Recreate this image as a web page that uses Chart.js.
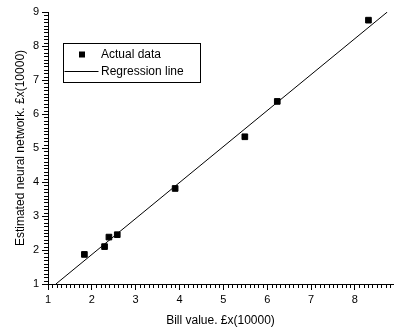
<!DOCTYPE html>
<html><head><meta charset="utf-8">
<script src="https://cdn.jsdelivr.net/npm/chart.js@4/dist/chart.umd.min.js"></script>
<style>html,body{margin:0;padding:0;background:#fff}#wrap{width:398px;height:328px;position:relative}</style>
</head><body><div id="wrap"><canvas id="c"></canvas></div>
<script>
// Data
const billValue = [1.83, 2.29, 2.39, 2.58, 3.9, 5.49, 6.23, 8.31];
const estimated = [1.87, 2.10, 2.38, 2.45, 3.81, 5.33, 6.37, 8.76];
const regressionX = [1.18, 8.74];
const regressionY = [1.0, 9.0];
const xTicks = [1, 2, 3, 4, 5, 6, 7, 8];
const yTicks = [1, 2, 3, 4, 5, 6, 7, 8, 9];
const seriesNames = ['Actual data', 'Regression line'];
const xTitle = 'Bill value. £x(10000)';
const yTitle = 'Estimated neural network. £x(10000)';

Chart.defaults.font.family = '"Liberation Sans", Arial, sans-serif';
Chart.defaults.color = '#000';

function drawMinor(chart) {
  const ctx = chart.ctx;
  const x = chart.scales.x, y = chart.scales.y, a = chart.chartArea;
  ctx.save();
  ctx.strokeStyle = '#000';
  ctx.lineWidth = 1;
  ctx.beginPath();
  const x0 = Math.round(x.options.min * 10), x1 = Math.floor(x.options.max * 10);
  for (let i = x0; i <= x1; i++) {
    if (i % 10 === 0) continue;
    const px = Math.round(x.getPixelForValue(i / 10)) + 0.5;
    ctx.moveTo(px, a.bottom);
    ctx.lineTo(px, a.bottom + 4);
  }
  const y0 = Math.round(y.options.min * 10), y1 = Math.floor(y.options.max * 10);
  for (let i = y0; i <= y1; i++) {
    if (i % 10 === 0) continue;
    const py = Math.round(y.getPixelForValue(i / 10)) + 0.5;
    ctx.moveTo(a.left, py);
    ctx.lineTo(a.left - 4, py);
  }
  ctx.stroke();
  ctx.restore();
}

function drawLegendBox(chart) {
  const ctx = chart.ctx, a = chart.chartArea;
  const bx = a.left + 15.5, by = 43.5, bw = 137, bh = 39;
  ctx.save();
  ctx.fillStyle = '#fff';
  ctx.fillRect(bx, by, bw, bh);
  ctx.strokeStyle = '#000';
  ctx.lineWidth = 1;
  ctx.strokeRect(bx, by, bw, bh);
  ctx.fillStyle = '#000';
  ctx.fillRect(bx + 15.5, by + 8, 6, 6);
  ctx.beginPath();
  ctx.moveTo(bx + 1, by + 28);
  ctx.lineTo(bx + 35, by + 28);
  ctx.stroke();
  ctx.font = '12px "Liberation Sans", Arial, sans-serif';
  ctx.textBaseline = 'middle';
  ctx.textAlign = 'left';
  ctx.fillText(seriesNames[0], bx + 37.5, by + 11);
  ctx.fillText(seriesNames[1], bx + 37.5, by + 28);
  ctx.restore();
}

const extras = {
  id: 'extras',
  afterDraw(chart) {
    drawMinor(chart);
    drawLegendBox(chart);
  }
};

new Chart(document.getElementById('c'), {
  type: 'scatter',
  data: {
    datasets: [
      {
        label: seriesNames[0],
        data: billValue.map((v, i) => ({x: v, y: estimated[i]})),
        pointStyle: 'rect',
        pointRadius: 4,
        backgroundColor: '#000',
        borderColor: '#000',
        borderWidth: 1
      },
      {
        label: seriesNames[1],
        type: 'line',
        data: regressionX.map((v, i) => ({x: v, y: regressionY[i]})),
        borderColor: '#000',
        borderWidth: 1,
        pointRadius: 0,
        fill: false,
        showLine: true
      }
    ]
  },
  options: {
    responsive: true,
    maintainAspectRatio: false,
    animation: false,
    events: [],
    layout: {padding: {top: 12, right: 1, left: 0, bottom: 0}},
    plugins: {legend: {display: false}, tooltip: {enabled: false}},
    scales: {
      x: {
        type: 'linear', min: 1, max: 8.87,
        afterBuildTicks: s => { s.ticks = xTicks.map(v => ({value: v})); },
        afterFit: s => { s.height = 44; },
        grid: {drawOnChartArea: false, drawTicks: true, tickLength: 6, color: '#000'},
        border: {display: true, color: '#000', width: 1},
        ticks: {font: {size: 11}, padding: 3, maxRotation: 0, color: '#000'},
        title: {display: true, text: xTitle, font: {size: 12}, padding: {top: 0, bottom: 0}, color: '#000'}
      },
      y: {
        type: 'linear', min: 1, max: 9,
        afterBuildTicks: s => { s.ticks = yTicks.map(v => ({value: v})); },
        afterFit: s => { s.width = 48; },
        grid: {drawOnChartArea: false, drawTicks: true, tickLength: 6, color: '#000'},
        border: {display: true, color: '#000', width: 1},
        ticks: {font: {size: 11}, padding: 3, color: '#000'},
        title: {display: true, text: yTitle, font: {size: 12}, padding: {top: 13, bottom: 0}, color: '#000'}
      }
    }
  },
  plugins: [extras]
});
</script>
</body></html>
